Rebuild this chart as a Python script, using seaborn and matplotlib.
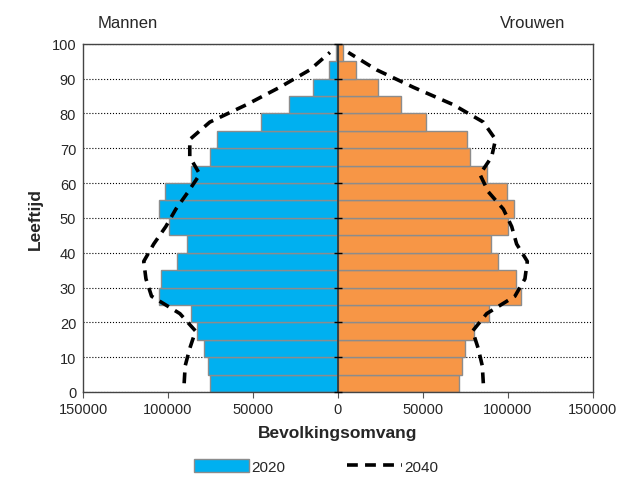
import numpy as np
import pandas as pd
import seaborn as sns
import matplotlib.pyplot as plt
from matplotlib.lines import Line2D
from matplotlib.patches import Patch

# leeftijdsklassen (midden van 5-jaars groep)
leeftijd = [2.5, 7.5, 12.5, 17.5, 22.5, 27.5, 32.5, 37.5, 42.5, 47.5,
            52.5, 57.5, 62.5, 67.5, 72.5, 77.5, 82.5, 87.5, 92.5, 97.5]

mannen_2020 = [75000, 76400, 78700, 83200, 86700, 105200, 104200, 94600, 88700, 99400,
               105200, 101700, 86600, 75000, 71100, 45500, 28700, 14500, 5100, 900]
vrouwen_2020 = [71100, 72800, 74800, 80100, 89100, 107600, 104600, 94000, 89900, 100300,
                103800, 99700, 87600, 77700, 75800, 51800, 36900, 23700, 10600, 3100]

mannen_2040 = [90500, 89900, 87200, 83800, 93000, 109700, 113000, 114300, 108400, 101300,
               95400, 88100, 81300, 87200, 87200, 75400, 53800, 34200, 16500, 4700]
vrouwen_2040 = [85600, 85000, 82600, 79300, 87600, 104200, 110100, 111500, 105200, 102300,
                97400, 88500, 83600, 90500, 92800, 85600, 67900, 44400, 22800, 6100]

xticks = [-150000, -100000, -50000, 0, 50000, 100000, 150000]
xticklabels = ['150000', '100000', '50000', '0', '50000', '100000', '150000']

blauw = '#00B0F0'
oranje = '#F79646'

sns.set_style('white')
plt.rcParams['font.family'] = ['Liberation Sans', 'DejaVu Sans']

df_m = pd.DataFrame({'leeftijd': leeftijd, 'aantal': -np.array(mannen_2020)})
df_v = pd.DataFrame({'leeftijd': leeftijd, 'aantal': vrouwen_2020})

fig = plt.figure(figsize=(6.2, 4.81), dpi=100)
ax = fig.add_axes([0.134, 0.183, 0.822, 0.724])

sns.barplot(data=df_m, x='aantal', y='leeftijd', orient='h', native_scale=True,
            width=1, color=blauw, saturation=1, edgecolor='#8c8c8c', linewidth=1, ax=ax, zorder=2)
sns.barplot(data=df_v, x='aantal', y='leeftijd', orient='h', native_scale=True,
            width=1, color=oranje, saturation=1, edgecolor='#8c8c8c', linewidth=1, ax=ax, zorder=2)

lijn_m = pd.DataFrame({'leeftijd': leeftijd, 'aantal': -np.array(mannen_2040)})
lijn_v = pd.DataFrame({'leeftijd': leeftijd, 'aantal': vrouwen_2040})
for d in (lijn_m, lijn_v):
    sns.lineplot(data=d, x='aantal', y='leeftijd', sort=False, estimator=None,
                 color='black', linestyle=(0, (3, 2)), linewidth=2.6, ax=ax, zorder=4)

ax.axvline(0, color='#333333', linewidth=1.2, zorder=3)
# kleine tickstreepjes op de nul-as
ax.scatter(np.zeros(11), np.arange(0, 101, 10), marker='_', s=30, color='black',
           linewidths=1, zorder=5, clip_on=False)

ax.set_xlim(-150000, 150000)
ax.set_ylim(0, 100)
ax.set_xticks(xticks)
ax.set_xticklabels(xticklabels, fontsize=10.5)
ax.set_yticks(range(0, 101, 10))
ax.set_yticklabels([str(v) for v in range(0, 101, 10)], fontsize=10.5)
ax.tick_params(axis='x', direction='out', length=4, color='#555555', bottom=True)
ax.tick_params(axis='y', length=0, pad=5)
ax.yaxis.grid(True, color='black', linestyle=':', linewidth=0.8)
ax.set_axisbelow(True)
for s in ax.spines.values():
    s.set_color('#444444')
    s.set_linewidth(1)

ax.set_xlabel('Bevolkingsomvang', fontsize=12.5, fontweight='bold', labelpad=6)
ax.set_ylabel('Leeftijd', fontsize=12.5, fontweight='bold', labelpad=6)

fig.text(0.157, 0.952, 'Mannen', fontsize=12, va='center', ha='left')
fig.text(0.912, 0.952, 'Vrouwen', fontsize=12, va='center', ha='right')

handles = [Patch(facecolor=blauw, edgecolor='#8c8c8c'),
           Line2D([0], [0], color='black', linestyle=(0, (3, 2)), linewidth=2.6)]
fig.legend(handles, ['2020', '2040'], loc='center', bbox_to_anchor=(0.51, 0.028),
           ncol=2, frameon=False, fontsize=11, handlelength=3.6, handleheight=0.9,
           columnspacing=4.0, handletextpad=0.15)

fig.savefig('out.png', dpi=100)
